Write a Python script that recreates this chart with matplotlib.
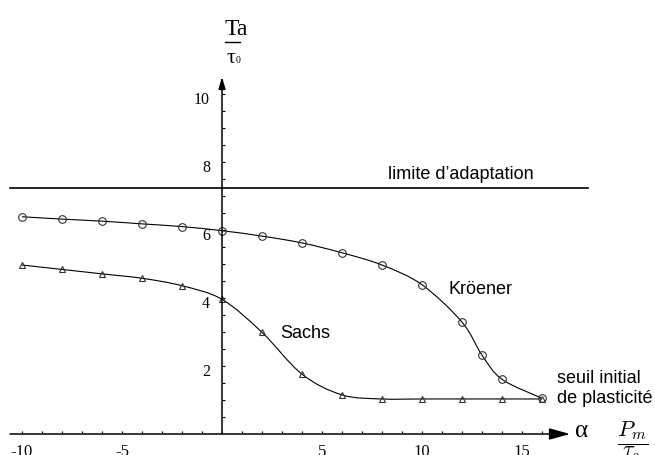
import matplotlib
matplotlib.use("Agg")
import matplotlib.pyplot as plt
import numpy as np
from matplotlib.path import Path
from matplotlib.patches import PathPatch

# Kroener model (circles)
kroener_x = [-10, -8, -6, -4, -2, 0, 2, 4, 6, 8, 10, 12, 13, 14, 16]
kroener_y = [6.39, 6.32, 6.26, 6.18, 6.10, 5.98, 5.82, 5.62, 5.33, 4.97, 4.39, 3.29, 2.32, 1.61, 1.05]

# Sachs model (triangles)
sachs_x = [-10, -8, -6, -4, -2, 0, 2, 4, 6, 8, 10, 12, 14, 16]
sachs_y = [4.97, 4.84, 4.71, 4.58, 4.36, 3.96, 2.99, 1.76, 1.15, 1.03, 1.03, 1.03, 1.03, 1.03]

limite = 7.24

xticks_lab = [-10, -5, 5, 10, 15]
yticks_lab = [2, 4, 6, 8, 10]

serif = "Liberation Serif"
sans = "Liberation Sans"


def smooth_path(xs, ys):
    # catmull-rom through the points, as cubic bezier segments
    P = np.column_stack([xs, ys]).astype(float)
    n = len(P)
    verts = [P[0]]
    codes = [Path.MOVETO]
    for i in range(n - 1):
        p0 = P[i - 1] if i > 0 else P[i]
        p1 = P[i]
        p2 = P[i + 1]
        p3 = P[i + 2] if i + 2 < n else P[i + 1]
        verts += [p1 + (p2 - p0) / 6, p2 - (p3 - p1) / 6, p2]
        codes += [Path.CURVE4] * 3
    return Path(verts, codes)


plt.rcParams["mathtext.fontset"] = "cm"

fig = plt.figure(figsize=(6.55, 4.55), dpi=100)
ax = fig.add_axes([0, 0, 1, 1])
ax.set_xlim(-11.1, 21.65)
ax.set_ylim(-0.618, 12.765)
ax.axis("off")

# axes with arrows
ax.annotate("", xy=(17.4, 0), xytext=(-10.6, 0),
            arrowprops=dict(arrowstyle="-|>,head_length=0.9,head_width=0.25",
                            mutation_scale=14, lw=1.1, color="black",
                            shrinkA=0, shrinkB=0))
ax.annotate("", xy=(0, 10.5), xytext=(0, 0),
            arrowprops=dict(arrowstyle="-|>,head_length=0.5,head_width=0.15",
                            mutation_scale=14, lw=1.1, color="black",
                            shrinkA=0, shrinkB=0))

# tick marks
xt = np.arange(-10, 17, 1)
ax.vlines(xt, 0, 0.1, color="black", lw=0.8)
yt = np.arange(0.5, 10.5, 0.5)
ax.hlines(yt, 0, 0.15, color="black", lw=0.8)

# x labels sit low, partly under the bottom edge as in the original
for v in xticks_lab:
    ax.text(v, -0.64, "%d" % v, ha="center", va="baseline",
            family=serif, fontsize=12)
for v in yticks_lab:
    ax.text(-0.6, v - 0.285, "%d" % v, ha="right", va="baseline",
            family=serif, fontsize=11.5)

# adaptation limit
ax.plot([-10.6, 18.3], [limite, limite], color="black", lw=1.2)

# curves
ax.add_patch(PathPatch(smooth_path(kroener_x, kroener_y), fc="none", ec="black", lw=0.8))
ax.add_patch(PathPatch(smooth_path(sachs_x, sachs_y), fc="none", ec="black", lw=0.8))
ax.plot(kroener_x, kroener_y, ls="none", marker="o", ms=5.5, mfc="none",
        mec="#333333", mew=0.8)
ax.plot(sachs_x, sachs_y, ls="none", marker="^", ms=5, mfc="none",
        mec="#333333", mew=0.8)

# annotations
ax.text(8.3, 7.5, "limite d\u2019adaptation", family=sans, fontsize=13, va="baseline")
ax.text(11.35, 4.12, "Kr\u00f6ener", family=sans, fontsize=13, va="baseline")
ax.text(2.9, 2.82, "Sachs", family=sans, fontsize=13, va="baseline")
ax.text(16.75, 1.5, "seuil initial", family=sans, fontsize=13, va="baseline")
ax.text(16.75, 0.91, "de plasticit\u00e9", family=sans, fontsize=13, va="baseline")

# axis titles
ax.text(17.65, -0.09, "\u03b1", family=serif, fontsize=18, va="baseline")
ax.text(20.55, -0.2, r"$\dfrac{P_m}{\tau_s}$", fontsize=16, ha="center", va="center")

ax.text(0.15, 11.74, "Ta", family=serif, fontsize=17, va="baseline")
ax.plot([0.15, 0.9], [11.54, 11.54], color="black", lw=1.0)
ax.text(0.2, 10.91, "\u03c4", family=serif, fontsize=16, va="baseline")
ax.text(0.7, 10.91, "0", family=serif, fontsize=7, va="baseline")

fig.savefig("out.png", dpi=100)
